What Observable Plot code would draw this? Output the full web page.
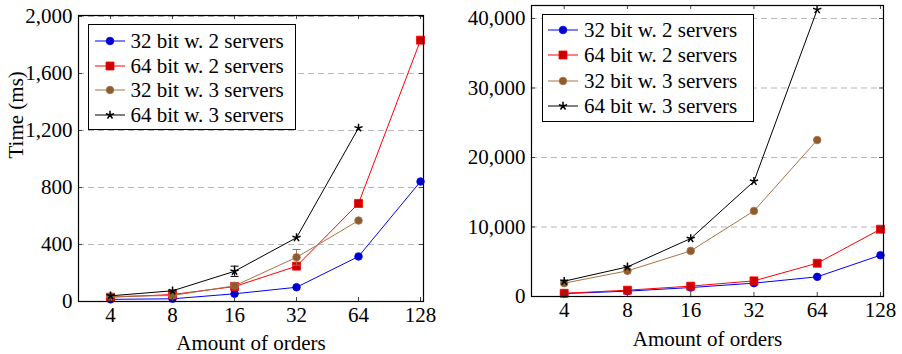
<!DOCTYPE html>
<html><head><meta charset="utf-8">
<script src="https://cdn.jsdelivr.net/npm/d3@7"></script>
<script src="https://cdn.jsdelivr.net/npm/@observablehq/plot@0.6"></script>
<style>
body{margin:0;background:#fff;font-family:"Liberation Serif",serif;}
#wrap{position:relative;width:902px;height:354px;overflow:hidden;background:#fff}
.panel{position:absolute;top:0}
.panel svg text{font-family:"Liberation Serif",serif !important;font-size:21px !important;}
.legend{position:absolute;border:1.3px solid #000;background:#fff;font-size:21px;box-sizing:border-box;color:#000}
.row{position:absolute;display:flex;align-items:center;white-space:nowrap;height:24px}
.row svg{display:block}
</style></head><body><div id="wrap"></div>
<script>
// ---------- data ----------
const orders = [4, 8, 16, 32, 64, 128];
const seriesNames = ["32 bit w. 2 servers", "64 bit w. 2 servers", "32 bit w. 3 servers", "64 bit w. 3 servers"];

// left panel (Time in ms)
const left32bit2srv = [15, 19, 54, 100, 316, 842];
const left64bit2srv = [30, 49, 105, 248, 688, 1834];
const left32bit3srv = [35, 42, 110, 310, 568];
const left64bit3srv = [40, 75, 212, 448, 1218];
const left32bit3srvErr = [0, 0, 0, 55, 0];
const left64bit3srvErr = [0, 0, 36, 0, 0];
const leftYTicks = [0, 400, 800, 1200, 1600, 2000];

// right panel
const right32bit2srv = [420, 770, 1290, 1920, 2830, 5940];
const right64bit2srv = [460, 910, 1490, 2250, 4790, 9680];
const right32bit3srv = [1920, 3690, 6560, 12310, 22510];
const right64bit3srv = [2200, 4260, 8340, 16570, 41280];
const rightYTicks = [0, 10000, 20000, 30000, 40000];

const xLabel = "Amount of orders";
const yLabel = "Time (ms)";

// ---------- styles ----------
const lineColors = ["#0000ff", "#ff0000", "#a57445", "#000000"];
const fillColors = ["#0000cc", "#cc0000", "#8c5c30", "#000000"];
const starSymbol = {
  draw(ctx, size) {
    const r = Math.sqrt(size / Math.PI);
    for (let i = 0; i < 5; i++) {
      const a = (-90 + 72 * i) * Math.PI / 180;
      ctx.moveTo(0, 0);
      ctx.lineTo(r * Math.cos(a), r * Math.sin(a));
    }
  }
};
const capSymbol = {draw(ctx, size) { ctx.moveTo(-4, 0); ctx.lineTo(4, 0); }};
const symbols = ["circle", "square", "circle", starSymbol];
const radii = [3.8, 4.5, 3.8, 4.3];
const font = "'Liberation Serif', serif";

function rows(xs, ys, errs) {
  return ys.map((y, i) => ({x: xs[i], y, e: errs ? errs[i] : 0}));
}

function panel({series, yTicks, yMax, width, mL, mR, mT, mB, showYLabel, labelDy}) {
  const height = 354;
  const fw = width - mL - mR, fh = height - mT - mB;
  const marks = [
    Plot.ruleY(yTicks.filter(d => d > 0), {y: d => d, stroke: "#b8b8b8", strokeDasharray: "6,4", strokeWidth: 1})
  ];
  series.forEach((data, k) => {
    marks.push(Plot.line(data, {x: "x", y: "y", stroke: lineColors[k], strokeWidth: 1}));
    const errData = data.filter(d => d.e > 0);
    if (errData.length) {
      marks.push(Plot.ruleX(errData, {x: "x", y1: d => d.y - d.e, y2: d => d.y + d.e, stroke: lineColors[k], strokeWidth: 1}));
      marks.push(Plot.dot(errData, {x: "x", y: d => d.y + d.e, symbol: capSymbol, stroke: lineColors[k], strokeWidth: 1}));
      marks.push(Plot.dot(errData, {x: "x", y: d => d.y - d.e, symbol: capSymbol, stroke: lineColors[k], strokeWidth: 1}));
    }
    if (k === 3) {
      marks.push(Plot.dot(data, {x: "x", y: "y", symbol: symbols[k], r: radii[k], stroke: fillColors[k], strokeWidth: 1.5, fill: "none"}));
    } else {
      marks.push(Plot.dot(data, {x: "x", y: "y", symbol: symbols[k], r: radii[k], fill: fillColors[k], stroke: lineColors[k], strokeWidth: 0.8}));
    }
  });
  marks.push(
    Plot.tickX(orders, {x: d => d, insetTop: fh - 4, stroke: "#444"}),
    Plot.tickX(orders, {x: d => d, insetBottom: fh - 4, stroke: "#444"}),
    Plot.tickY(yTicks, {y: d => d, insetRight: fw - 4, stroke: "#444"}),
    Plot.tickY(yTicks, {y: d => d, insetLeft: fw - 4, stroke: "#444"}),
    Plot.frame({stroke: "#000", strokeWidth: 1.2}),
    Plot.axisX(orders, {tickSize: 0, tickPadding: 6, tickFormat: d => String(d), label: null, fontFamily: font, fontSize: 21}),
    Plot.axisY(yTicks, {tickSize: 0, tickPadding: 6, tickFormat: d3.format(","), label: null, fontFamily: font, fontSize: 21}),
    Plot.text([xLabel], {text: d => d, frameAnchor: "bottom", lineAnchor: "bottom", dy: labelDy, fontFamily: font, fontSize: 21})
  );
  if (showYLabel) {
    marks.push(Plot.text([yLabel], {text: d => d, frameAnchor: "left", rotate: -90, lineAnchor: "middle", dx: -62, fontFamily: font, fontSize: 21}));
  }
  return Plot.plot({
    width, height,
    marginLeft: mL, marginRight: mR, marginTop: mT, marginBottom: mB,
    style: {fontSize: "21px", fontFamily: font, color: "#000", background: "transparent", overflow: "visible"},
    x: {type: "log", base: 2, domain: [4 / Math.pow(2, 0.517), 128 * Math.pow(2, 0.048)]},
    y: {domain: [0, yMax]},
    marks
  });
}

function legend(left, top, w, h, rowTops, lineX0, textX) {
  const box = document.createElement("div");
  box.className = "legend";
  Object.assign(box.style, {left: left + "px", top: top + "px", width: w + "px", height: h + "px"});
  seriesNames.forEach((name, k) => {
    const row = document.createElement("div");
    row.className = "row";
    row.style.left = (lineX0 - left) + "px";
    row.style.top = (rowTops[k] - top - 12) + "px";
    const ns = "http://www.w3.org/2000/svg";
    const svg = document.createElementNS(ns, "svg");
    svg.setAttribute("width", 30); svg.setAttribute("height", 12);
    const ln = document.createElementNS(ns, "line");
    ln.setAttribute("x1", 0); ln.setAttribute("x2", 30); ln.setAttribute("y1", 6); ln.setAttribute("y2", 6);
    ln.setAttribute("stroke", lineColors[k]); ln.setAttribute("stroke-width", 1);
    svg.appendChild(ln);
    const sym = typeof symbols[k] === "string" ? (symbols[k] === "square" ? d3.symbolSquare : d3.symbolCircle) : symbols[k];
    const p = document.createElementNS(ns, "path");
    p.setAttribute("d", d3.symbol(sym, Math.PI * radii[k] * radii[k])());
    p.setAttribute("transform", "translate(15,6)");
    if (k === 3) { p.setAttribute("fill", "none"); p.setAttribute("stroke", "#000"); p.setAttribute("stroke-width", 1.5); }
    else { p.setAttribute("fill", fillColors[k]); p.setAttribute("stroke", lineColors[k]); p.setAttribute("stroke-width", 0.8); }
    svg.appendChild(p);
    row.appendChild(svg);
    const t = document.createElement("span");
    t.textContent = name;
    t.style.marginLeft = (textX - lineX0 - 30) + "px";
    row.appendChild(t);
    box.appendChild(row);
  });
  return box;
}

const wrap = document.getElementById("wrap");

const leftPlot = panel({
  series: [rows(orders, left32bit2srv), rows(orders, left64bit2srv), rows(orders, left32bit3srv, left32bit3srvErr), rows(orders, left64bit3srv, left64bit3srvErr)],
  yTicks: leftYTicks, yMax: 2007, width: 450, mL: 78, mR: 27, mT: 15, mB: 53, showYLabel: true, labelDy: 48
});
const lp = document.createElement("div"); lp.className = "panel"; lp.style.left = "0px"; lp.appendChild(leftPlot); wrap.appendChild(lp);

const rightPlot = panel({
  series: [rows(orders, right32bit2srv), rows(orders, right64bit2srv), rows(orders, right32bit3srv), rows(orders, right64bit3srv)],
  yTicks: rightYTicks, yMax: 41870, width: 452, mL: 81, mR: 19, mT: 5, mB: 58, showYLabel: false, labelDy: 49
});
const rp = document.createElement("div"); rp.className = "panel"; rp.style.left = "450px"; rp.appendChild(rightPlot); wrap.appendChild(rp);

wrap.appendChild(legend(88, 24, 208, 106, [40, 65, 89, 114], 94, 129.5));
wrap.appendChild(legend(542, 14, 212, 108, [29, 54, 80, 105], 547, 583));
</script>
</body></html>
